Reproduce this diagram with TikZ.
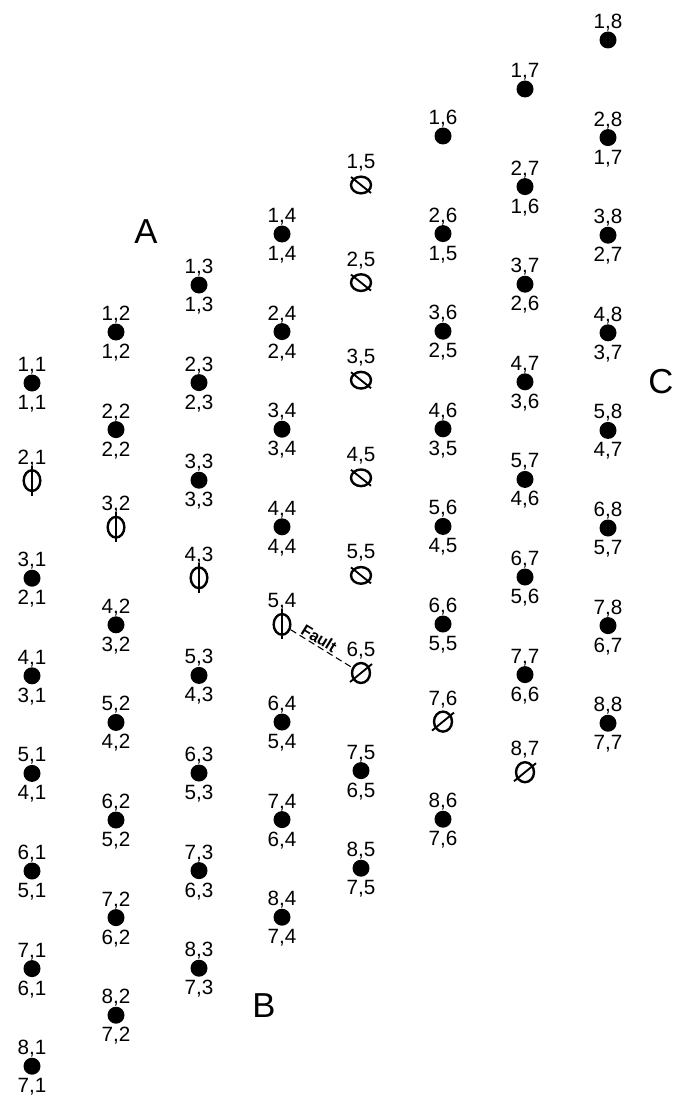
\documentclass[tikz,border=0pt]{standalone}
\usepackage{fontspec}
\setmainfont{Liberation Sans}
\usepackage{tikz}
\usetikzlibrary{shapes.geometric, calc}

\tikzset{
  dot/.style={circle, fill=black, inner sep=0pt, minimum size=12.75pt},
  gapbar/.style={ellipse, draw, line width=1.8pt, inner sep=0pt,
                 minimum width=12.5pt, minimum height=15.5pt},
  gapwide/.style={ellipse, draw, line width=1.8pt, inner sep=0pt,
                  minimum width=15pt, minimum height=12.5pt},
  gaptall/.style={ellipse, draw, line width=1.8pt, inner sep=0pt,
                  minimum width=13.5pt, minimum height=15pt},
  bar/.style={line width=1.4pt},
  num/.style={font=\fontsize{15.5}{18}\selectfont, inner sep=0pt,
              text height=11.2pt, text depth=0pt},
  side/.style={font=\fontsize{26}{30}\selectfont, inner sep=0pt,
               text height=18.7pt, text depth=0pt},
  fault/.style={dashed, dash pattern=on 5pt off 3pt, line width=0.8pt},
}

\begin{document}
\begin{tikzpicture}[x=0.75pt, y=-0.75pt]
  \useasboundingbox (0,0) rectangle (672,1098);
  % positions of the 8x8 points
  \foreach \j/\cx/\cy in {1/32/383, 2/116/332, 3/199/285, 4/282/234,
                          5/361/185, 6/443/136, 7/525/89, 8/608/40}{
    \foreach \i in {1,...,8}{
      \coordinate (c\i\j) at ({\cx}, {\cy+(\i-1)*97.6});
    }
  }
  % dots, number above and number below
  \foreach \j/\from/\to/\di/\dj in {1/1/1/0/0, 1/3/8/1/0, 2/1/2/0/0, 2/4/8/1/0,
                                    3/1/3/0/0, 3/5/8/1/0, 4/1/4/0/0, 4/6/8/1/0,
                                    5/7/8/1/0, 6/2/6/1/1, 6/8/8/1/0, 7/2/7/1/1,
                                    8/2/8/1/1}{
    \foreach \i in {\from,...,\to}{
      \pgfmathtruncatemacro{\li}{\i-\di}
      \pgfmathtruncatemacro{\lj}{\j-\dj}
      \node[dot] (d\i\j) at (c\i\j) {};
      \node[num] (t\i\j) at ($(d\i\j)+(0,-19)$) {\i,\j};
      \node[num] (b\i\j) at ($(d\i\j)+(0,19)$) {\li,\lj};
    }
  }
  % dots, number above only
  \foreach \i/\j in {1/6, 1/7, 1/8}{
    \node[dot] (d\i\j) at (c\i\j) {};
    \node[num] (t\i\j) at ($(d\i\j)+(0,-19)$) {\i,\j};
  }
  % open points, upright bar
  \foreach \i/\j in {2/1, 3/2, 4/3, 5/4}{
    \node[gapbar] (p\i\j) at (c\i\j) {};
    \draw[bar] ($(p\i\j)+(0,-15)$) -- ($(p\i\j)+(0,15)$);
    \node[num] (t\i\j) at ($(p\i\j)+(0,-24)$) {\i,\j};
  }
  % open points, slashed
  \foreach \i/\j in {1/5, 2/5, 3/5, 4/5, 5/5}{
    \node[gapwide] (o\i\j) at (c\i\j) {};
    \draw[bar] ($(o\i\j)+(-10,-8)$) -- ($(o\i\j)+(10,8)$);
    \node[num] (t\i\j) at ($(o\i\j)+(0,-24)$) {\i,\j};
  }
  \foreach \i/\j in {6/5, 7/6, 8/7}{
    \node[gaptall] (o\i\j) at (c\i\j) {};
    \draw[bar] ($(o\i\j)+(-11,9)$) -- ($(o\i\j)+(11,-9)$);
    \node[num] (t\i\j) at ($(o\i\j)+(0,-24)$) {\i,\j};
  }
  % fault
  \draw[fault] (p54) -- (o65)
    node[pos=0.4, sloped, above=1pt, inner sep=0pt,
         font=\fontsize{12}{14}\selectfont\bfseries] (flt) {Fault};
  % sides
  \node[side] (A) at (146,231) {A};
  \node[side] (B) at (264,1005) {B};
  \node[side] (C) at (661,381) {C};
\end{tikzpicture}
\end{document}
